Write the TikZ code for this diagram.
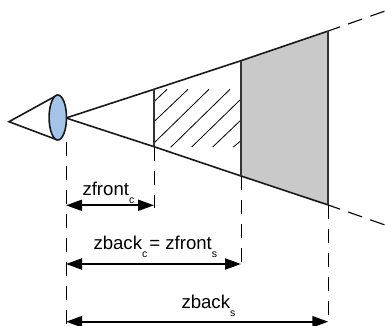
\documentclass[tikz,border=0pt]{standalone}
\usepackage{fontspec}
\setmainfont{Liberation Sans}
\usetikzlibrary{arrows.meta}
\definecolor{eyeblue}{HTML}{A3C4E8}
\tikzset{
  solidline/.style={draw=black!90,line width=1.6pt},
  divider/.style={draw=black!80,line width=1.7pt},
  guide/.style={draw=black,line width=1pt,dash pattern=on 14pt off 10pt},
  slantguide/.style={draw=black,line width=1.1pt,dash pattern=on 15pt off 8.5pt,dash phase=2.5pt},
  hatchline/.style={draw=black,line width=0.8pt},
  dimarrow/.style={draw=black,line width=2pt,{Triangle[length=16pt,width=11pt]}-{Triangle[length=16pt,width=11pt]}},
  dimlabel/.style={anchor=base west,inner sep=0pt,outer sep=0pt,font=\fontsize{18.6}{20}\selectfont}
}
\newcommand{\subtxt}[1]{\raisebox{-8pt}{\fontsize{10.5}{10.5}\selectfont #1}}
\begin{document}
\begin{tikzpicture}[x=1pt,y=-1pt]
\useasboundingbox (0,0) rectangle (385,326);
% key points
\coordinate (apex) at (9,121.7);
\coordinate (etop) at (57.5,95);
\coordinate (ebot) at (57.5,140);
\coordinate (o) at (66,118);
\coordinate (t1) at (154,89.3);
\coordinate (t2) at (241,60.7);
\coordinate (t3) at (328.3,31);
\coordinate (b1) at (154,146.7);
\coordinate (b2) at (241,176);
\coordinate (b3) at (328.3,205);
\coordinate (tend) at (385,11);
\coordinate (bend) at (385,225);
\coordinate (g0a) at (66,142);
\coordinate (g0b) at (66,324);
\coordinate (g1b) at (154,208);
\coordinate (g2b) at (241,264);
\coordinate (g3b) at (328.3,316);
\coordinate (a1l) at (66,205.3);
\coordinate (a1r) at (154,205.3);
\coordinate (a2l) at (66,264);
\coordinate (a2r) at (241,264);
\coordinate (a3l) at (66,321.7);
\coordinate (a3r) at (328.3,321.7);
% grey slab
\fill[black!21] (t2) -- (t3) -- (b3) -- (b2) -- cycle;
% hatching
\draw[hatchline] (154,101.7) -- (167,89.3);
\draw[hatchline] (154,121.7) -- (188,89.3);
\draw[hatchline] (154,143) -- (209,89.3);
\draw[hatchline] (170.7,147.3) -- (230,89.3);
\draw[hatchline] (191.7,147) -- (241,99);
\draw[hatchline] (212.7,147) -- (241,120);
\draw[hatchline] (233.3,147) -- (241,140.7);
% frustum
\draw[solidline] (o) -- (t1) -- (t2) -- (t3);
\draw[solidline] (o) -- (b1) -- (b2) -- (b3);
\draw[divider] (t1) -- (b1);
\draw[divider] (t2) -- (b2);
\draw[divider] (t3) -- (b3);
\draw[slantguide] (t3) -- (tend);
\draw[slantguide] (b3) -- (bend);
% eye
\draw[solidline] (etop) -- (apex) -- (ebot);
\filldraw[fill=eyeblue,solidline] (57.8,117.5) circle [x radius=8.7,y radius=22.5];
% guides
\draw[guide] (g0a) -- (g0b);
\draw[guide] (b1) -- (g1b);
\draw[guide] (b2) -- (g2b);
\draw[guide] (b3) -- (g3b);
% dimensions
\draw[dimarrow] (a1l) -- (a1r);
\draw[dimarrow] (a2l) -- (a2r);
\draw[dimarrow] (a3l) -- (a3r);
\node[dimlabel] (l1) at (82.5,195) {zfront\subtxt{c}};
\node[dimlabel] (l2) at (93.5,249.3) {zback\subtxt{c}\kern2pt= zfront\subtxt{s}};
\node[dimlabel] (l3) at (181.5,308) {zback\subtxt{s}};
\end{tikzpicture}
\end{document}
